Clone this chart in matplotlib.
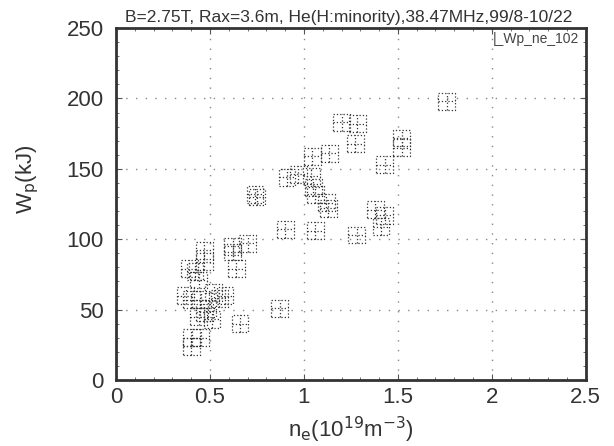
import matplotlib.pyplot as plt
from matplotlib.path import Path
from matplotlib.ticker import MultipleLocator

plt.rcParams['font.family'] = ['Liberation Sans', 'DejaVu Sans']

# electron density (1e19 m^-3) and stored energy (kJ)
ne = [1.76, 1.52, 1.52, 1.43, 1.38, 1.43, 1.41, 1.28,
      1.20, 1.285, 1.274, 1.045, 1.136,
      0.91, 0.97, 1.04, 1.05, 1.06, 1.12, 1.13, 0.74, 0.75,
      0.90, 1.06, 0.87,
      0.70, 0.62, 0.62, 0.64, 0.47, 0.47, 0.39, 0.42, 0.44,
      0.37, 0.40, 0.45, 0.52, 0.58, 0.55, 0.49, 0.44, 0.51, 0.47,
      0.66, 0.40, 0.40, 0.45]
wp = [198, 172, 165, 153, 121, 117, 109, 103,
      183, 182, 168, 159, 161,
      144, 146, 145, 137, 132, 126, 122, 132, 130,
      107, 106, 51,
      97, 95, 91, 79, 92, 84, 79, 77, 71,
      60, 57, 57, 62, 60, 58, 51, 45, 43, 48,
      40, 30, 24, 30]

# square with a cross inside
box = Path([(-1, -1), (1, -1), (1, 1), (-1, 1), (-1, -1),
            (-1, 0), (1, 0), (0, -1), (0, 1)],
           [Path.MOVETO, Path.LINETO, Path.LINETO, Path.LINETO, Path.CLOSEPOLY,
            Path.MOVETO, Path.LINETO, Path.MOVETO, Path.LINETO])

fig = plt.figure(figsize=(6.14, 4.46), dpi=100)
ax = fig.add_axes([0.189, 0.148, 0.765, 0.789])

ax.scatter(ne, wp, marker=box, s=145, facecolors='none', edgecolors='#333333',
           linewidths=0.9, linestyles=':', zorder=3)

ax.set_xlim(0, 2.5)
ax.set_ylim(0, 250)
ax.xaxis.set_major_locator(MultipleLocator(0.5))
ax.xaxis.set_minor_locator(MultipleLocator(0.1))
ax.yaxis.set_major_locator(MultipleLocator(50))
ax.yaxis.set_minor_locator(MultipleLocator(10))
ax.xaxis.set_major_formatter(plt.FuncFormatter(lambda v, p: f'{v:g}'))
ax.grid(True, which='major', linestyle=(0, (1, 6)), color='#888888', linewidth=1.0)
ax.tick_params(which='both', direction='in', top=True, right=True, color='#555555')
ax.tick_params(which='major', length=4, labelsize=16, labelcolor='#333333')
ax.tick_params(axis='y', which='major', pad=9)
ax.tick_params(axis='x', which='major', pad=5)
ax.tick_params(which='minor', length=2)
for sp in ax.spines.values():
    sp.set_linewidth(2)
    sp.set_color('#333333')

ax.set_xlabel(r'n$_\mathrm{e}$(10$^{19}$m$^{-3}$)', fontsize=16, color='#333333', labelpad=5)
ax.set_ylabel(r'W$_\mathrm{p}$(kJ)', fontsize=16, color='#333333')
ax.yaxis.set_label_coords(-0.16, 0.57)

ax.text(0.018, 1.008, 'B=2.75T, Rax=3.6m, He(H:minority),38.47MHz,99/8-10/22',
        transform=ax.transAxes, fontsize=12.5, color='#333333', ha='left', va='bottom')
ax.text(0.985, 0.99, '|_Wp_ne_102', transform=ax.transAxes, fontsize=10,
        color='#444444', ha='right', va='top')

fig.savefig('out.png', dpi=100)
